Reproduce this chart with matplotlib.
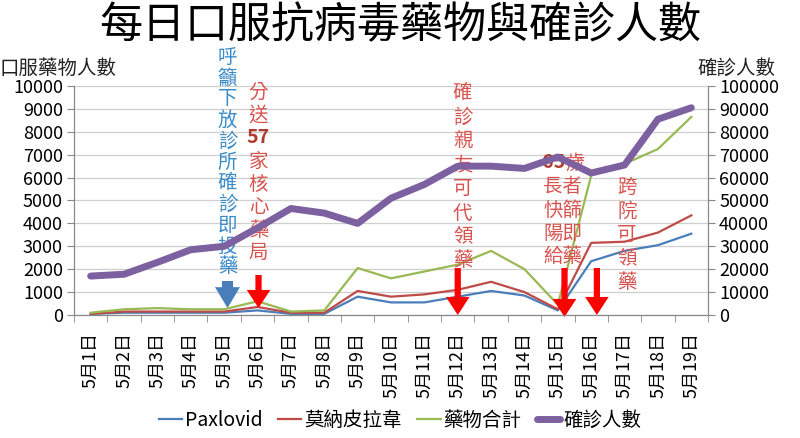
import matplotlib.pyplot as plt
from matplotlib.transforms import blended_transform_factory

plt.rcParams['font.family'] = ['Noto Sans CJK TC', 'DejaVu Sans']

# Data
days = [f"5月{d}日" for d in range(1, 20)]
paxlovid = [50, 100, 100, 100, 100, 200, 50, 50, 800, 550, 550, 800, 1050, 850, 200, 2350, 2800, 3050, 3550]
molnupiravir = [50, 150, 150, 150, 150, 350, 100, 100, 1050, 800, 900, 1100, 1450, 1000, 250, 3150, 3200, 3600, 4350]
drug_total = [100, 250, 300, 250, 250, 600, 150, 200, 2050, 1600, 1900, 2200, 2800, 2000, 450, 6100, 6600, 7250, 8650]
confirmed = [17000, 17800, 23000, 28500, 30000, 38000, 46500, 44500, 40000, 51000, 57000, 65000,
             65000, 64000, 69000, 62000, 65500, 85500, 90500]

C_BLUE = "#4A7EBB"
C_RED = "#BE4B48"
C_GREEN = "#98B954"
C_PURPLE = "#7D60A0"
C_NOTE_RED = "#D9534F"
C_NOTE_BLUE = "#3A8BC8"

W, H = 800, 438
fig = plt.figure(figsize=(W / 100, H / 100), dpi=100)
ax = fig.add_axes([74 / W, 1 - 315 / H, 634 / W, 229 / H])
ax2 = ax.twinx()

x = list(range(len(days)))
ax.plot(x, paxlovid, color=C_BLUE, lw=1.6, label="Paxlovid")
ax.plot(x, molnupiravir, color=C_RED, lw=1.6, label="莫納皮拉韋")
ax.plot(x, drug_total, color=C_GREEN, lw=1.6, label="藥物合計")
ax2.plot(x, confirmed, color=C_PURPLE, lw=5, solid_capstyle="round", label="確診人數")

ax.set_xlim(-0.5, len(days) - 0.5)
ax.set_ylim(0, 10000)
ax2.set_ylim(0, 100000)
ax.set_yticks(range(0, 10001, 1000))
ax2.set_yticks(range(0, 100001, 10000))
ax.grid(axis="y", color="#CFCFCF", lw=0.9)
ax.set_axisbelow(True)

ax.set_xticks(x)
ax.set_xticklabels(days, rotation=90, fontsize=13, va="top")
ax.set_xticks([i - 0.5 for i in range(len(days) + 1)], minor=True)
ax.tick_params(axis="x", which="major", length=0, pad=12)
ax.tick_params(axis="x", which="minor", length=5, color="#888888")
ax.tick_params(axis="y", length=5, color="#888888", labelsize=13, pad=3)
ax2.tick_params(axis="y", length=5, color="#888888", labelsize=13, pad=3)

for a in (ax, ax2):
    a.spines["top"].set_visible(False)
    for s in ("left", "right", "bottom"):
        a.spines[s].set_color("#888888")

# Titles and axis captions
fig.text(0.5, 1 - 26 / H, "每日口服抗病毒藥物與確診人數", ha="center", va="center",
         fontsize=31, fontweight="light")
fig.text(0.0, 1 - 68 / H, "口服藥物人數", ha="left", va="center", fontsize=14, color="#222222")
fig.text(697 / W, 1 - 68 / H, "確診人數", ha="left", va="center", fontsize=14, color="#222222")

# Legend
h1, l1 = ax.get_legend_handles_labels()
h2, l2 = ax2.get_legend_handles_labels()
fig.legend(h1 + h2, l1 + l2, loc="center", bbox_to_anchor=(0.5, 1 - 420 / H), ncol=4,
           frameon=False, fontsize=14, handlelength=1.2, handletextpad=0.15, columnspacing=0.8)

# Annotations: x in category units, y in figure pixels from the top
tr = blended_transform_factory(ax.transData, fig.transFigure)


def fy(px):
    return 1 - px / H


def column(xpos, y0, chars, step, color, size=14, bold_rows=()):
    for i, ch in enumerate(chars):
        ax.text(xpos, fy(y0 + i * step), ch, transform=tr, ha="center", va="center",
                fontsize=size, color="#B03A2E" if i in bold_rows else color,
                fontweight="bold" if i in bold_rows else "normal", clip_on=False, zorder=10)


def arrow(xpos, y_tail, y_head, color, style):
    ax.annotate("", xy=(xpos, fy(y_head)), xytext=(xpos, fy(y_tail)), xycoords=tr, textcoords=tr,
                arrowprops=dict(arrowstyle=style, color=color, lw=0, mutation_scale=10,
                                shrinkA=0, shrinkB=0), zorder=10, annotation_clip=False)


red_style = "simple,head_length=1.3,head_width=1.7,tail_width=0.45"
blue_style = "simple,head_length=1.5,head_width=1.8,tail_width=0.8"

column(4.1, 57, list("呼籲下放診所確診即投藥"), 21, C_NOTE_BLUE)
arrow(4.1, 281, 308, C_BLUE, blue_style)

column(5.03, 92, ["分", "送", "57", "家", "核", "心", "藥", "局"], 23, C_NOTE_RED, bold_rows=(2,))
arrow(5.03, 275, 308, "#FF0000", red_style)

column(11.15, 93, list("確診親友可代領藥"), 24, C_NOTE_RED)
arrow(11.0, 268, 315, "#FF0000", red_style)

ax.text(14.21, fy(163), "65", transform=tr, ha="right", va="center", fontsize=14,
        fontweight="bold", color="#B03A2E", clip_on=False, zorder=10)
ax.text(14.21, fy(163), "歲", transform=tr, ha="left", va="center", fontsize=14,
        color=C_NOTE_RED, clip_on=False, zorder=10)
column(14.15, 187, ["長者", "快篩", "陽即", "給藥"], 23, C_NOTE_RED)
arrow(14.2, 268, 317, "#FF0000", red_style)
arrow(15.17, 268, 315, "#FF0000", red_style)

column(16.07, 187, list("跨院可領藥"), 24, C_NOTE_RED)

fig.savefig("out.png", dpi=100)
